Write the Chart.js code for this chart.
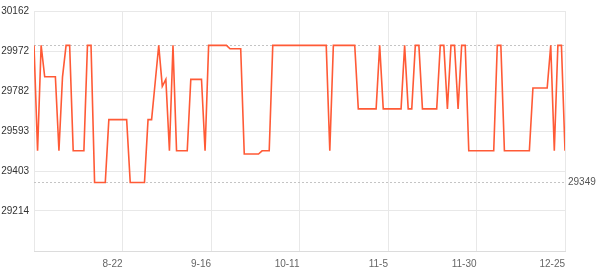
<!DOCTYPE html>
<html>
<head>
<meta charset="utf-8">
<script src="https://cdn.jsdelivr.net/npm/chart.js@4/dist/chart.umd.min.js"></script>
<style>
  html, body { margin: 0; padding: 0; background: #fff; }
  #wrap { width: 600px; height: 274px; }
</style>
</head>
<body>
<div id="wrap"><canvas id="price-chart" width="600" height="274"></canvas></div>
<script>
// ── Data ──────────────────────────────────────────────────
// one price per day, 7-28 .. 12-25
const prices = [
  29999, 29499, 29999, 29850, 29850, 29850, 29850, 29499, 29850, 29999,
  29999, 29499, 29499, 29499, 29499, 29999, 29999, 29349, 29349, 29349,
  29349, 29647, 29647, 29647, 29647, 29647, 29647, 29349, 29349, 29349,
  29349, 29349, 29647, 29647, 29823, 29999, 29805, 29838, 29499, 29999,
  29499, 29499, 29499, 29499, 29838, 29838, 29838, 29838, 29499, 29999,
  29999, 29999, 29999, 29999, 29999, 29983, 29983, 29983, 29983, 29484,
  29484, 29484, 29484, 29484, 29499, 29499, 29499, 29999, 29999, 29999,
  29999, 29999, 29999, 29999, 29999, 29999, 29999, 29999, 29999, 29999,
  29999, 29999, 29999, 29499, 29999, 29999, 29999, 29999, 29999, 29999,
  29999, 29698, 29698, 29698, 29698, 29698, 29698, 29999, 29698, 29698,
  29698, 29698, 29698, 29698, 29999, 29698, 29698, 29999, 29999, 29698,
  29698, 29698, 29698, 29698, 29999, 29999, 29698, 29999, 29999, 29698,
  29999, 29999, 29499, 29499, 29499, 29499, 29499, 29499, 29499, 29499,
  29999, 29999, 29499, 29499, 29499, 29499, 29499, 29499, 29499, 29499,
  29797, 29797, 29797, 29797, 29797, 29999, 29499, 29999, 29999, 29499,
];

const xTickLabels = ["8-22", "9-16", "10-11", "11-5", "11-30", "12-25"];
const yTickValues = [29024, 29214, 29403, 29593, 29782, 29972, 30162];

const minPrice = Math.min(...prices);
const maxPrice = Math.max(...prices);
const lastIndex = prices.length - 1;

// ── Colours ───────────────────────────────────────────────
const LINE_CLR = "#ff5a36";
const GRID_CLR = "#e8e8e8";
const REF_CLR  = "#c4c4c4";

Chart.defaults.font.family = "'Liberation Sans', Arial, sans-serif";
Chart.defaults.font.size   = 10;

// dotted lines at the highest and lowest price
const refLines = {
  id: "refLines",
  beforeDatasetsDraw(chart) {
    const { ctx, chartArea: a, scales: { y } } = chart;
    ctx.save();
    ctx.strokeStyle = REF_CLR;
    ctx.lineWidth = 1;
    ctx.setLineDash([2, 2]);
    [maxPrice, minPrice].forEach(v => {
      const py = Math.round(y.getPixelForValue(v)) + 0.5;
      ctx.beginPath();
      ctx.moveTo(a.left, py);
      ctx.lineTo(a.right, py);
      ctx.stroke();
    });
    ctx.restore();
  },
};

new Chart(document.getElementById("price-chart"), {
  type: "line",
  data: {
    datasets: [{
      data: prices.map((v, i) => ({ x: i, y: v })),
      borderColor: LINE_CLR,
      borderWidth: 1.6,
      pointRadius: 0,
      tension: 0,
      fill: false,
    }],
  },
  options: {
    responsive: false,
    animation: false,
    layout: { padding: { top: 8, left: 0, right: 0, bottom: 0 } },
    plugins: { legend: { display: false }, tooltip: { enabled: false } },
    scales: {
      x: {
        type: "linear",
        min: 0, max: lastIndex,
        afterBuildTicks: s => {
          s.ticks = [0, 1, 2, 3, 4, 5, 6].map(k => ({ value: k * lastIndex / 6 }));
        },
        afterFit: s => { s.height = 23; },
        ticks: {
          autoSkip: false,
          maxRotation: 0,
          align: "end",
          padding: 7,
          color: "#666",
          callback: (v, i) => (i === 0 ? "" : xTickLabels[i - 1]),
        },
        grid: { color: GRID_CLR, drawTicks: false },
        border: { color: "#dcdcdc" },
      },
      y: {
        min: yTickValues[0], max: yTickValues[yTickValues.length - 1],
        afterBuildTicks: s => { s.ticks = yTickValues.map(v => ({ value: v })); },
        afterFit: s => { s.width = 34; },
        ticks: {
          padding: 5,
          color: "#333",
          callback: (v, i) => (i === 0 ? "" : String(v)),
        },
        grid: { color: GRID_CLR, drawTicks: false },
        border: { display: false },
      },
      y2: {
        position: "right",
        min: yTickValues[0], max: yTickValues[yTickValues.length - 1],
        afterBuildTicks: s => { s.ticks = [{ value: minPrice }]; },
        afterFit: s => { s.width = 35; },
        ticks: { padding: 3, color: "#555", callback: v => String(v) },
        grid: { display: false, drawTicks: false },
        border: { display: false },
      },
    },
  },
  plugins: [refLines],
});
</script>
</body>
</html>
